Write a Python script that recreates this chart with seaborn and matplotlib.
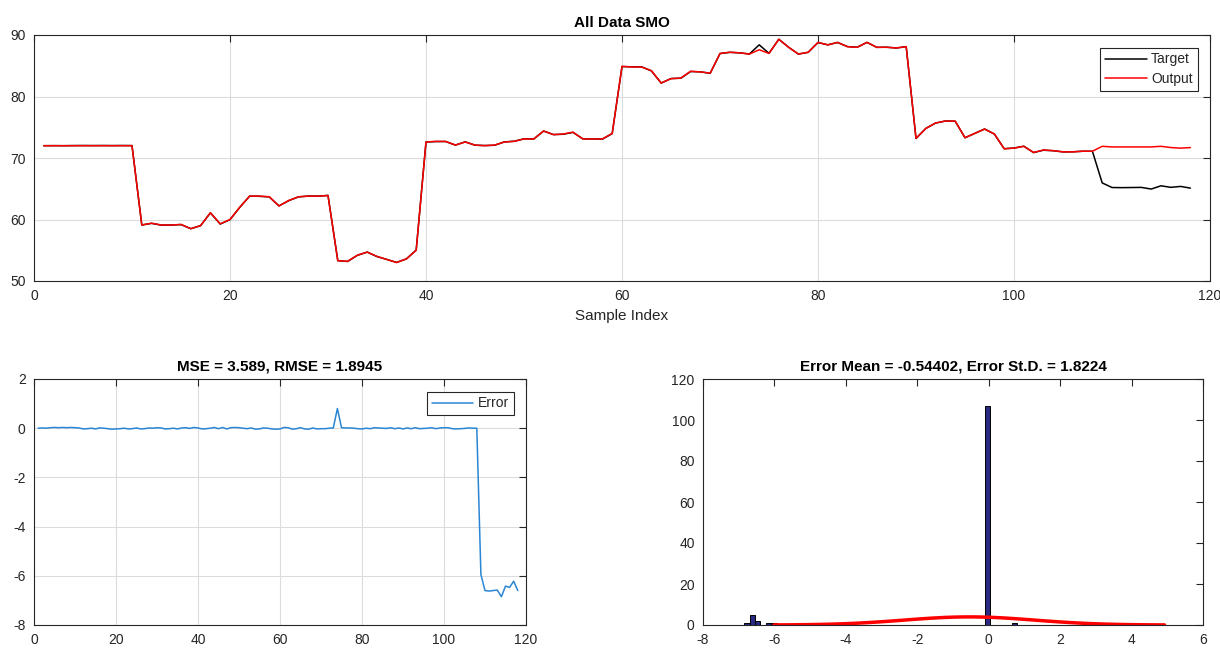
import numpy as np
import pandas as pd
import matplotlib
matplotlib.use("Agg")
import matplotlib.pyplot as plt
import seaborn as sns

# --- data ---
sample_index = np.arange(1, 119)

output = [
    72.0, 72.0, 72.0, 72.0, 72.0, 72.0, 72.0, 72.0, 72.0, 72.0,
    59.1, 59.4, 59.1, 59.1, 59.2, 58.5, 59.0, 61.1, 59.3, 60.0,
    62.0, 63.8, 63.8, 63.7, 62.2, 63.1, 63.7, 63.8, 63.8, 63.9,
    53.3, 53.2, 54.2, 54.7, 54.0, 53.5, 53.0, 53.6, 55.0, 72.6,
    72.7, 72.7, 72.1, 72.6, 72.1, 72.0, 72.1, 72.6, 72.7, 73.1,
    73.1, 74.4, 73.8, 73.9, 74.2, 73.1, 73.1, 73.1, 74.0, 84.9,
    84.8, 84.8, 84.2, 82.2, 82.9, 83.0, 84.1, 84.0, 83.8, 87.0,
    87.2, 87.1, 86.9, 87.6, 87.0, 89.3, 88.0, 86.9, 87.2, 88.8,
    88.4, 88.8, 88.1, 88.0, 88.8, 88.0, 88.0, 87.9, 88.1, 73.2,
    74.8, 75.7, 76.0, 76.0, 73.3, 74.0, 74.7, 73.9, 71.5, 71.6,
    71.9, 70.9, 71.3, 71.2, 71.0, 71.0, 71.1, 71.1, 71.9, 71.8,
    71.8, 71.8, 71.8, 71.8, 71.9, 71.7, 71.6, 71.7,
]

error = [
    0.00, 0.01, 0.00, 0.02, 0.03, 0.02, 0.03, 0.02, 0.03, 0.02,
    0.01, -0.03, -0.02, 0.00, -0.03, 0.01, 0.00, -0.02, -0.04, -0.03,
    -0.02, 0.00, -0.03, -0.02, 0.01, -0.03, -0.02, 0.01, 0.00, 0.02,
    0.01, -0.03, -0.02, 0.00, -0.03, 0.01, 0.02, -0.01, 0.03, 0.01,
    -0.03, -0.02, 0.00, 0.03, -0.02, 0.03, -0.03, 0.02, 0.03, 0.02,
    0.00, -0.02, 0.01, -0.04, -0.03, 0.01, 0.00, -0.03, -0.04, -0.03,
    0.03, 0.02, -0.04, -0.02, 0.02, -0.03, -0.04, 0.01, -0.03, -0.02,
    -0.02, 0.00, 0.01, 0.80, 0.02, 0.01, 0.01, 0.00, -0.02, -0.03,
    0.00, -0.02, 0.02, 0.01, 0.00, -0.01, 0.02, -0.02, 0.01, -0.03,
    0.01, -0.02, 0.02, -0.02, -0.01, 0.00, 0.02, -0.02, 0.01, 0.02,
    0.02, -0.02, -0.03, -0.02, -0.01, 0.01, 0.00, 0.00, -5.95, -6.60,
    -6.62, -6.60, -6.58, -6.85, -6.42, -6.47, -6.22, -6.60,
]

target = np.array(output) + np.array(error)

err_mean = -0.54402
err_std = 1.8224
n_bins = 50

title_top = "All Data SMO"
title_mse = "MSE = 3.589, RMSE = 1.8945"
title_hist = "Error Mean = -0.54402, Error St.D. = 1.8224"

# --- style ---
sns.set_style("white")
plt.rcParams["font.family"] = ["Liberation Sans", "DejaVu Sans"]
plt.rcParams["axes.unicode_minus"] = False
txt = "#262626"
grid_c = "#dcdcdc"


def matlab_axes(ax, grid=True):
    for s in ax.spines.values():
        s.set_color(txt)
        s.set_linewidth(0.8)
    ax.tick_params(direction="in", top=True, right=True, length=5,
                   width=0.8, colors=txt, labelsize=10, pad=6)
    ax.set_xlabel("")
    ax.set_ylabel("")
    if grid:
        ax.grid(True, color=grid_c, linewidth=0.8)
        ax.set_axisbelow(True)


def legend(ax):
    leg = ax.legend(loc="upper right", fontsize=10, frameon=True, fancybox=False,
                    handlelength=3.0, borderaxespad=0.9, borderpad=0.35,
                    labelspacing=0.4, handletextpad=0.3)
    leg.get_frame().set_edgecolor(txt)
    leg.get_frame().set_linewidth(0.8)
    leg.get_frame().set_alpha(1)


fig = plt.figure(figsize=(12.2, 6.49), dpi=100)
W, H = 1220, 649

# top panel
ax1 = fig.add_axes([34 / W, 1 - 281 / H, (1210 - 34) / W, (281 - 35) / H])
sns.lineplot(x=sample_index, y=target, ax=ax1, color="black", linewidth=1.1, label="Target")
sns.lineplot(x=sample_index, y=output, ax=ax1, color="red", linewidth=1.1, label="Output")
matlab_axes(ax1)
ax1.set_xlim(0, 120)
ax1.set_ylim(50, 90)
ax1.set_xticks(range(0, 121, 20))
ax1.set_yticks(range(50, 91, 10))
ax1.set_title(title_top, fontsize=11, fontweight="bold", color="black", pad=6)
ax1.set_xlabel("Sample Index", fontsize=11, color=txt, labelpad=4)
legend(ax1)

# bottom left: error
ax2 = fig.add_axes([34 / W, 1 - 625 / H, (526 - 34) / W, (625 - 379) / H])
sns.lineplot(x=sample_index, y=error, ax=ax2, color="#2A86D4", linewidth=1.1, label="Error")
matlab_axes(ax2)
ax2.set_xlim(0, 120)
ax2.set_ylim(-8, 2)
ax2.set_xticks(range(0, 121, 20))
ax2.set_yticks(range(-8, 3, 2))
ax2.set_title(title_mse, fontsize=11, fontweight="bold", color="black", pad=6)
legend(ax2)

# bottom right: histogram with normal fit
ax3 = fig.add_axes([703 / W, 1 - 625 / H, (1203 - 703) / W, (625 - 379) / H])
sns.histplot(x=error, bins=n_bins, ax=ax3, color="#2A2A82", edgecolor="black",
             linewidth=0.7, alpha=1)
bin_w = (max(error) - min(error)) / n_bins
xs = np.linspace(err_mean - 3 * err_std, err_mean + 3 * err_std, 100)
ys = len(error) * bin_w * np.exp(-0.5 * ((xs - err_mean) / err_std) ** 2) / (err_std * np.sqrt(2 * np.pi))
sns.lineplot(x=xs, y=ys, ax=ax3, color="red", linewidth=2.5)
matlab_axes(ax3, grid=False)
ax3.set_xlim(-8, 6)
ax3.set_ylim(0, 120)
ax3.set_xticks(range(-8, 7, 2))
ax3.set_yticks(range(0, 121, 20))
ax3.set_title(title_hist, fontsize=11, fontweight="bold", color="black", pad=6)

fig.savefig("out.png", dpi=100)
